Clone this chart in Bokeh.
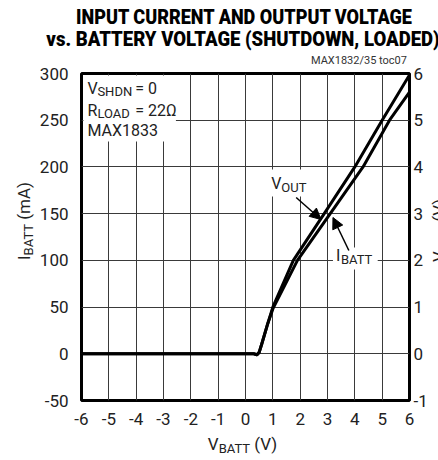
import math
from bokeh.plotting import figure
from bokeh.models import (Range1d, LinearAxis, FixedTicker, Label, BoxAnnotation,
                          Arrow, NormalHead, Div)
from bokeh.layouts import column, row
from bokeh.embed import file_html
from bokeh.resources import INLINE

# ---------------- data ----------------
XMIN, XMAX = -6, 6
YMIN, YMAX = -50, 300          # I_BATT (mA)
VMIN, VMAX = -1, 6             # V_OUT (V)
XTICKS = list(range(-6, 7))
YTICKS = list(range(-50, 301, 50))
VTICKS = list(range(-1, 7))

# V_OUT vs V_BATT (V)
VOUT_X = [-6.0, 0.30, 0.42, 0.50, 0.60, 0.80, 1.00, 1.75, 2.88, 4.00, 5.00, 6.00]
VOUT_V = [0.00, 0.00, -0.02, 0.03, 0.22, 0.62, 1.00, 2.00, 3.00, 4.00, 5.00, 5.97]

# I_BATT vs V_BATT (mA)
IBATT_X = [-6.0, 0.30, 0.42, 0.50, 0.60, 0.80, 1.00, 1.90, 3.10, 4.30, 5.27, 6.00]
IBATT_MA = [0.0, 0.0, -1.0, 1.5, 11.0, 31.0, 48.0, 100.0, 150.0, 200.0, 250.0, 280.0]

TITLE1 = "INPUT CURRENT AND OUTPUT VOLTAGE"
TITLE2 = "vs. BATTERY VOLTAGE (SHUTDOWN, LOADED)"
TOC = "MAX1832/35 toc07"

FONT = "Roboto"
TXT = "#222222"

# page geometry (pixels from the top-left of the page)
FL, FR, FT, FB = 79, 409, 73, 400          # plotting frame
PAGE_W = 438
TOP_H = 65                                 # title div: y 0..65
ROW_Y = TOP_H
LEFT_W = 36                                # left label div: x 0..36
FIG_X = LEFT_W
FIG_R = 431
FIG_W = FIG_R - FIG_X                      # 395
FIG_H = 433 - ROW_Y                        # 368
RIGHT_W = PAGE_W - FIG_R                   # 7
BOT_Y = ROW_Y + FIG_H                      # 433
BOT_H = 25


def X(px):
    return XMIN + (px - FL) * (XMAX - XMIN) / (FR - FL)


def Y(py):
    return YMAX - (py - FT) * (YMAX - YMIN) / (FB - FT)


p = figure(width=FIG_W, height=FIG_H, output_backend="svg", toolbar_location=None,
           x_range=Range1d(XMIN, XMAX), y_range=Range1d(YMIN, YMAX),
           min_border_left=FL - FIG_X, min_border_right=FIG_R - FR,
           min_border_top=FT - ROW_Y, min_border_bottom=BOT_Y - FB,
           margin=0)
p.title.visible = False
p.background_fill_color = "white"
p.border_fill_color = "white"
p.outline_line_color = "black"
p.outline_line_width = 3

p.extra_y_ranges = {"v": Range1d(VMIN, VMAX)}

for g, t in ((p.xgrid, XTICKS), (p.ygrid, YTICKS)):
    g.ticker = FixedTicker(ticks=t)
    g.grid_line_color = "#3a3a3a"
    g.grid_line_width = 1


def style_axis(ax, ticks, standoff):
    ax.ticker = FixedTicker(ticks=ticks)
    ax.major_label_overrides = {t: str(t) for t in ticks}
    ax.axis_line_color = None
    ax.major_tick_line_color = None
    ax.minor_tick_line_color = None
    ax.major_tick_in = 0
    ax.major_tick_out = 0
    ax.major_label_standoff = standoff
    ax.major_label_text_font = FONT
    ax.major_label_text_font_size = "17px"
    ax.major_label_text_color = TXT


style_axis(p.xaxis[0], XTICKS, 12)
style_axis(p.yaxis[0], YTICKS, 13)
rax = LinearAxis(y_range_name="v")
style_axis(rax, VTICKS, 4)
p.add_layout(rax, "right")

# curves
p.line(IBATT_X, IBATT_MA, line_color="black", line_width=3, line_join="round")
p.line(VOUT_X, VOUT_V, y_range_name="v", line_color="black", line_width=3,
       line_join="round")

# white boxes behind the in-plot text
for l, r, t, b in ((81, 174, 75, 141), (265, 306, 169, 196), (332, 377, 247, 269)):
    p.add_layout(BoxAnnotation(left=X(l), right=X(r), top=Y(t), bottom=Y(b),
                               fill_color="white", fill_alpha=1.0, line_color=None,
                               level="annotation"))


def lab(px, py, text, size="16px", align="left"):
    p.add_layout(Label(x=X(px), y=Y(py), text=text, text_font=FONT,
                       text_font_size=size, text_align=align,
                       text_baseline="middle", text_color=TXT))


# condition block
lab(85, 87.5, "V")
lab(95, 90.5, "SHDN", size="13px")
p.segment(x0=[X(95)], y0=[Y(84)], x1=[X(129)], y1=[Y(84)], line_color=TXT,
          line_width=1)
lab(133, 87.5, "= 0")
lab(85, 110, "R")
lab(95, 113, "LOAD", size="13px")
lab(133, 110, "= 22Ω")
lab(85, 130, "MAX1833")

# curve labels
lab(270, 183, "V")
lab(280, 187, "OUT", size="13px")
lab(335, 255, "I")
lab(340, 259, "BATT", size="13px")

for xs, ys, xe, ye in ((295, 197, 320, 219), (348, 250, 332, 217)):
    p.add_layout(Arrow(end=NormalHead(size=11, fill_color="black", line_color="black"),
                       x_start=X(xs), y_start=Y(ys), x_end=X(xe), y_end=Y(ye),
                       line_color="black", line_width=1.5))


# ---------------- texts outside the frame (HTML, with subscripts) ----------------
def top_of(cap_center, size):
    return cap_center - 0.486 * size


SUB = "font-size:13px;position:relative;top:3px;"
top_html = f"""
<div style="position:relative;width:{PAGE_W}px;height:{TOP_H}px;font-family:{FONT};color:#000;">
 <div style="position:absolute;left:{244-300}px;width:600px;top:{top_of(17.5, 21):.1f}px;
      text-align:center;font-size:21px;line-height:21px;font-weight:900;white-space:nowrap;
      transform:scaleX(0.86);">{TITLE1}</div>
 <div style="position:absolute;left:{242.5-300}px;width:600px;top:{top_of(39.5, 21):.1f}px;
      text-align:center;font-size:21px;line-height:21px;font-weight:900;white-space:nowrap;
      transform:scaleX(0.884);">{TITLE2}</div>
 <div style="position:absolute;right:{PAGE_W-407}px;top:{top_of(60, 11):.1f}px;font-size:11px;
      line-height:11px;color:#333;white-space:nowrap;">{TOC}</div>
</div>"""

left_html = f"""
<div style="position:relative;width:{LEFT_W}px;height:{FIG_H}px;font-family:{FONT};color:{TXT};">
 <div style="position:absolute;left:15.8px;top:{260-ROW_Y}px;font-size:17px;line-height:17px;
      white-space:nowrap;transform:rotate(-90deg);transform-origin:0 0;">I<span style="{SUB}">BATT</span> (mA)</div>
</div>"""

right_html = f"""
<div style="position:relative;width:{RIGHT_W}px;height:{FIG_H}px;overflow:hidden;font-family:{FONT};color:{TXT};">
 <div style="position:absolute;left:{433-FIG_R-2.2:.1f}px;top:{262-ROW_Y}px;font-size:17px;line-height:17px;
      white-space:nowrap;transform:rotate(-90deg);transform-origin:0 0;">V<span style="{SUB}">OUT</span> (V)</div>
</div>"""

bot_html = f"""
<div style="position:relative;width:{PAGE_W}px;height:{BOT_H}px;font-family:{FONT};color:{TXT};">
 <div style="position:absolute;left:{242.5-300}px;width:600px;top:{top_of(444.5-BOT_Y, 17):.1f}px;
      text-align:center;font-size:17px;line-height:17px;white-space:nowrap;">V<span style="{SUB}">BATT</span> (V)</div>
</div>"""

top_div = Div(text=top_html, width=PAGE_W, height=TOP_H, margin=0)
left_div = Div(text=left_html, width=LEFT_W, height=FIG_H, margin=0)
right_div = Div(text=right_html, width=RIGHT_W, height=FIG_H, margin=0)
bot_div = Div(text=bot_html, width=PAGE_W, height=BOT_H, margin=0)

layout = column(top_div, row(left_div, p, right_div, spacing=0), bot_div, spacing=0)

open("out.html", "w").write(file_html(layout, INLINE))
